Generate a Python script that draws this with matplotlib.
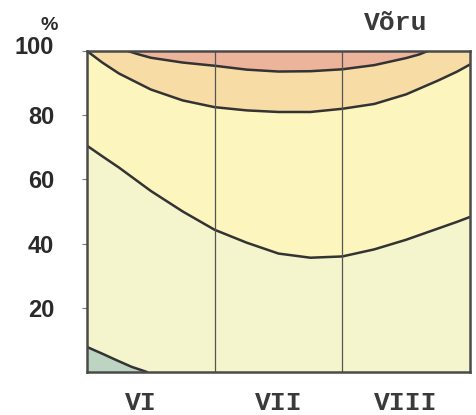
import matplotlib
matplotlib.use('Agg')
import matplotlib.pyplot as plt
import matplotlib.transforms as mtransforms

# month axis: 0 = start of VI, 3 = end of VIII
x_grid = [0, 0.12, 0.25, 0.5, 0.75, 1.0, 1.25, 1.5, 1.75, 2.0, 2.25, 2.5, 2.75, 2.9, 3.0]

# cumulative percentage boundaries
mid_curve = [70.5, 67.2, 63.7, 56.4, 50.0, 44.3, 40.3, 36.9, 35.6, 36.0, 38.2, 41.2, 44.7, 46.8, 48.3]
upper_curve = [100, 96.4, 93.0, 88.0, 84.6, 82.5, 81.5, 81.0, 81.0, 82.0, 83.5, 86.5, 90.8, 93.6, 95.8]

top_x = [0.32, 0.4, 0.5, 0.75, 1.0, 1.25, 1.5, 1.75, 2.0, 2.25, 2.5, 2.6, 2.67]
top_curve = [100, 99.0, 97.9, 96.4, 95.4, 94.2, 93.6, 93.7, 94.3, 95.6, 97.8, 98.9, 100]

low_x = [0, 0.12, 0.23, 0.35, 0.47]
low_curve = [7.8, 5.7, 3.7, 1.6, 0]

month_pos = [0.42, 1.5, 2.5]
month_labels = ['VI', 'VII', 'VIII']
y_ticks = [20, 40, 60, 80, 100]

c_pale = '#f4f5cd'
c_yellow = '#fcf6be'
c_orange = '#f8dca6'
c_pink = '#ecb49b'
c_green = '#bed4c3'
c_line = '#333333'
c_frame = '#4a4a4a'

fig = plt.figure(figsize=(4.76, 4.15), dpi=100)
ax = fig.add_axes([87 / 476, 1 - 372 / 415, 383 / 476, 321 / 415])
ax.set_facecolor(c_pale)

ax.fill_between(x_grid, mid_curve, upper_curve, color=c_yellow, lw=0)
ax.fill_between(x_grid, upper_curve, 100, color=c_orange, lw=0)
ax.fill_between(top_x, top_curve, 100, color=c_pink, lw=0)
ax.fill_between(low_x, 0, low_curve, color=c_green, lw=0)

for xs, ys in [(x_grid, mid_curve), (x_grid, upper_curve), (top_x, top_curve), (low_x, low_curve)]:
    ax.plot(xs, ys, color=c_line, lw=1.8, solid_capstyle='round', solid_joinstyle='round')

for xv in [1, 2]:
    ax.axvline(xv, color='#555555', lw=0.9)

ax.set_xlim(0, 3)
ax.set_ylim(0, 100)

for side in ['left', 'bottom', 'top', 'right']:
    ax.spines[side].set_color(c_frame)
    ax.spines[side].set_linewidth(1.8)

ax.set_yticks(y_ticks)
ax.set_yticklabels([str(v) for v in y_ticks], fontfamily='Liberation Sans',
                   fontweight='bold', fontsize=17, color='#2a2a2a')
ax.tick_params(axis='y', length=3.5, width=0.8, color='#777777', pad=20)

ax.set_xticks(month_pos)
ax.set_xticklabels(month_labels, fontfamily='Liberation Mono', fontweight='bold',
                   fontsize=19, color='#3a3a3a')
ax.tick_params(axis='x', length=0, pad=14)

# the "100" label sits a bit higher than its tick
lab100 = ax.get_yticklabels()[-1]
lab100.set_transform(lab100.get_transform() +
                     mtransforms.ScaledTranslation(0, 0.06, fig.dpi_scale_trans))

fig.text(49 / 476, 1 - 26 / 415, '%', fontfamily='Liberation Sans', fontweight='bold',
         fontsize=14, color='#2a2a2a', ha='center', va='center')
fig.text(396 / 476, 1 - 23 / 415, 'Võru', fontfamily='Liberation Mono', fontweight='bold',
         fontsize=19, color='#3a3a3a', ha='center', va='center')

fig.savefig('out.png', dpi=100, facecolor='white')
